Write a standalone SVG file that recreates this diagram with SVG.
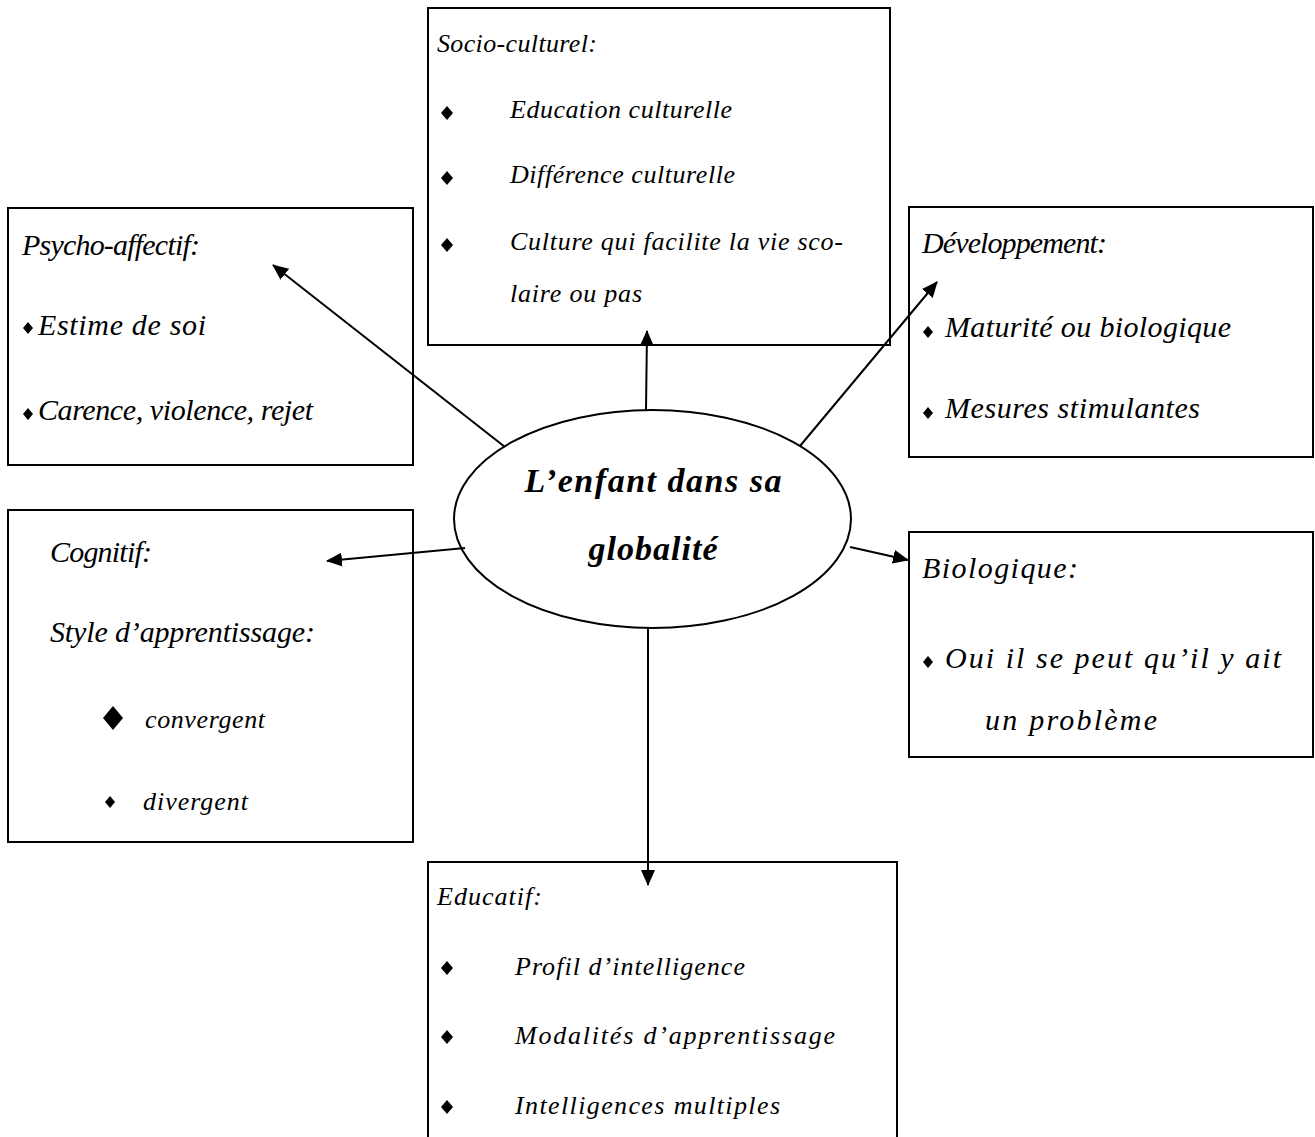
<svg xmlns="http://www.w3.org/2000/svg" width="1315" height="1137" viewBox="0 0 1315 1137">
<style>
.box{fill:#fff;stroke:#000;stroke-width:2}
.t{font-family:"Liberation Serif","DejaVu Serif",serif;font-style:italic;fill:#000}
.big{font-size:30px}
.small{font-size:26px}
.edu{font-size:26px}
.center{font-size:34px;font-weight:bold;text-anchor:middle}
.conn line{stroke:#000;stroke-width:2;marker-end:url(#ah)}
</style>
<defs>
<marker id="ah" markerUnits="userSpaceOnUse" markerWidth="16" markerHeight="14" viewBox="0 0 16 14" refX="15" refY="7" orient="auto">
<path d="M0,0 L16,7 L0,14 Z" fill="#000"/>
</marker>
<path id="d" d="M0,-7 L6,0 L0,7 L-6,0 Z" fill="#000"/>
<path id="ds" d="M0,-6 L5,0 L0,6 L-5,0 Z" fill="#000"/>
<path id="db" d="M0,-12 L10,0 L0,12 L-10,0 Z" fill="#000"/>
</defs>

<g id="socio">
<rect class="box" x="428" y="8" width="462" height="337"/>
<text class="t small" x="437" y="52" textLength="160">Socio-culturel:</text>
<use href="#d" x="447" y="113"/>
<text class="t small" x="510" y="118" textLength="222">Education culturelle</text>
<use href="#d" x="447" y="178"/>
<text class="t small" x="510" y="183" textLength="225">Différence culturelle</text>
<use href="#d" x="447" y="245"/>
<text class="t small" x="510" y="250" textLength="333">Culture qui facilite la vie sco-</text>
<text class="t small" x="510" y="302" textLength="132">laire ou pas</text>
</g>

<g id="psycho">
<rect class="box" x="8" y="208" width="405" height="257"/>
<text class="t big" x="22" y="255" textLength="178">Psycho-affectif:</text>
<use href="#ds" x="28" y="328"/>
<text class="t big" x="38" y="335" textLength="168">Estime de soi</text>
<use href="#ds" x="28" y="414"/>
<text class="t big" x="38" y="420" textLength="275">Carence, violence, rejet</text>
</g>

<g id="developpement">
<rect class="box" x="909" y="207" width="404" height="250"/>
<text class="t big" x="922" y="253" textLength="185">Développement:</text>
<use href="#ds" x="928" y="332"/>
<text class="t big" x="945" y="337" textLength="286">Maturité ou biologique</text>
<use href="#ds" x="928" y="413"/>
<text class="t big" x="945" y="418" textLength="255">Mesures stimulantes</text>
</g>

<g id="cognitif">
<rect class="box" x="8" y="510" width="405" height="332"/>
<text class="t big" x="50" y="562" textLength="102">Cognitif:</text>
<text class="t big" x="50" y="642" textLength="265">Style d’apprentissage:</text>
<use href="#db" x="113" y="718"/>
<text class="t small" x="145" y="728" textLength="120">convergent</text>
<use href="#ds" x="110" y="802"/>
<text class="t small" x="143" y="810" textLength="105">divergent</text>
</g>

<g id="biologique">
<rect class="box" x="909" y="532" width="404" height="225"/>
<text class="t big" x="922" y="578" textLength="156">Biologique:</text>
<use href="#ds" x="928" y="662"/>
<text class="t big" x="945" y="668" textLength="336">Oui il se peut qu’il y ait</text>
<text class="t big" x="985" y="730" textLength="172">un problème</text>
</g>

<g id="educatif">
<rect class="box" x="428" y="862" width="469" height="290"/>
<text class="t small" x="437" y="905" textLength="105">Educatif:</text>
<use href="#d" x="447" y="968"/>
<text class="t edu" x="515" y="975" textLength="230">Profil d’intelligence</text>
<use href="#d" x="447" y="1037"/>
<text class="t edu" x="515" y="1044" textLength="320">Modalités d’apprentissage</text>
<use href="#d" x="447" y="1107"/>
<text class="t edu" x="515" y="1114" textLength="265">Intelligences multiples</text>
</g>

<g id="center">
<ellipse cx="652.5" cy="519" rx="198.5" ry="109" fill="#fff" stroke="#000" stroke-width="2"/>
<text class="t center" x="653" y="492" textLength="257">L’enfant dans sa</text>
<text class="t center" x="653" y="560" textLength="129">globalité</text>
</g>

<g id="connectors" class="conn">
<line x1="646" y1="410" x2="647" y2="331"/>
<line x1="505" y1="447" x2="273" y2="265"/>
<line x1="800" y1="446" x2="937" y2="282"/>
<line x1="465" y1="548" x2="327" y2="561"/>
<line x1="850" y1="547" x2="908" y2="560"/>
<line x1="648" y1="628" x2="648" y2="885"/>
</g>
</svg>
